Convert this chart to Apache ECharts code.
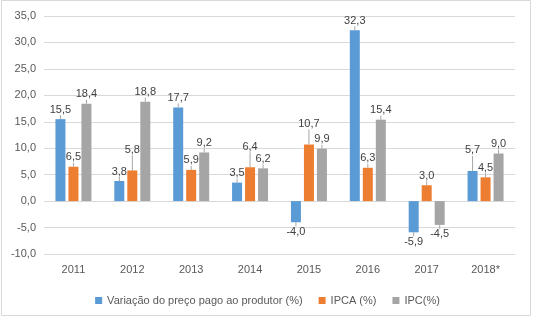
<!DOCTYPE html>
<html><head><meta charset="utf-8">
<script src="https://cdn.jsdelivr.net/npm/echarts@6/dist/echarts.min.js"></script>
<style>html,body{margin:0;padding:0;background:#fff}#c{width:535px;height:323px}</style>
</head><body><div id="c"></div>
<script>
var categories = ['2011','2012','2013','2014','2015','2016','2017','2018*'];
var produtor = [15.5, 3.8, 17.7, 3.5, -4.0, 32.3, -5.9, 5.7];
var ipca = [6.5, 5.8, 5.9, 6.4, 10.7, 6.3, 3.0, 4.5];
var ipc = [18.4, 18.8, 9.2, 6.2, 9.9, 15.4, -4.5, 9.0];
var seriesNames = ['Variação do preço pago ao produtor (%)', 'IPCA (%)', 'IPC(%)'];
var colors = ['#5B9BD5', '#ED7D31', '#A5A5A5'];
// labels lifted with a leader line in the original
var lifted = [[7], [1, 3, 4], []];

var font = 'Liberation Sans, Arial, sans-serif';
function fmt(v){ return v.toFixed(1).replace('.', ','); }

var chart = echarts.init(document.getElementById('c'));
var data = [produtor, ipca, ipc];
var series = data.map(function(arr, si){
  return {
    name: seriesNames[si], type: 'bar', barWidth: 10, barGap: '30%',
    itemStyle: {color: colors[si]},
    data: arr.map(function(v){
      return {value: v, label: {position: v < 0 ? 'bottom' : 'top'}};
    }),
    label: {show: true, fontFamily: font, fontSize: 11, color: '#404040', distance: 4,
      formatter: function(p){ return fmt(p.value); }},
    labelLine: {show: true, lineStyle: {color: '#a6a6a6', width: 1}},
    labelLayout: function(p){
      if (lifted[si].indexOf(p.dataIndex) >= 0) return {dy: -11};
      return {};
    }
  };
});

chart.setOption({
  animation: false,
  graphic: [{type: 'rect', shape: {x: 1.5, y: 0.5, width: 529, height: 315},
    style: {fill: 'none', stroke: '#d9d9d9', lineWidth: 1}, z: -10}],
  grid: {left: 44, right: 20, top: 16, bottom: 69},
  legend: {bottom: 20, left: 'center', top: 290, itemWidth: 7, itemHeight: 7, itemGap: 16,
    icon: 'rect', textStyle: {fontFamily: font, fontSize: 11, color: '#595959'}},
  xAxis: {type: 'category', data: categories,
    axisLine: {show: false, onZero: false}, axisTick: {show: false},
    axisLabel: {fontFamily: font, fontSize: 11, color: '#595959', margin: 10}},
  yAxis: {type: 'value', min: -10, max: 35, interval: 5,
    axisLine: {show: false}, axisTick: {show: false},
    splitLine: {lineStyle: {color: '#d9d9d9'}},
    axisLabel: {fontFamily: font, fontSize: 11, color: '#595959', margin: 8,
      formatter: function(v){ return fmt(v); }}},
  series: series
});
</script></body></html>
